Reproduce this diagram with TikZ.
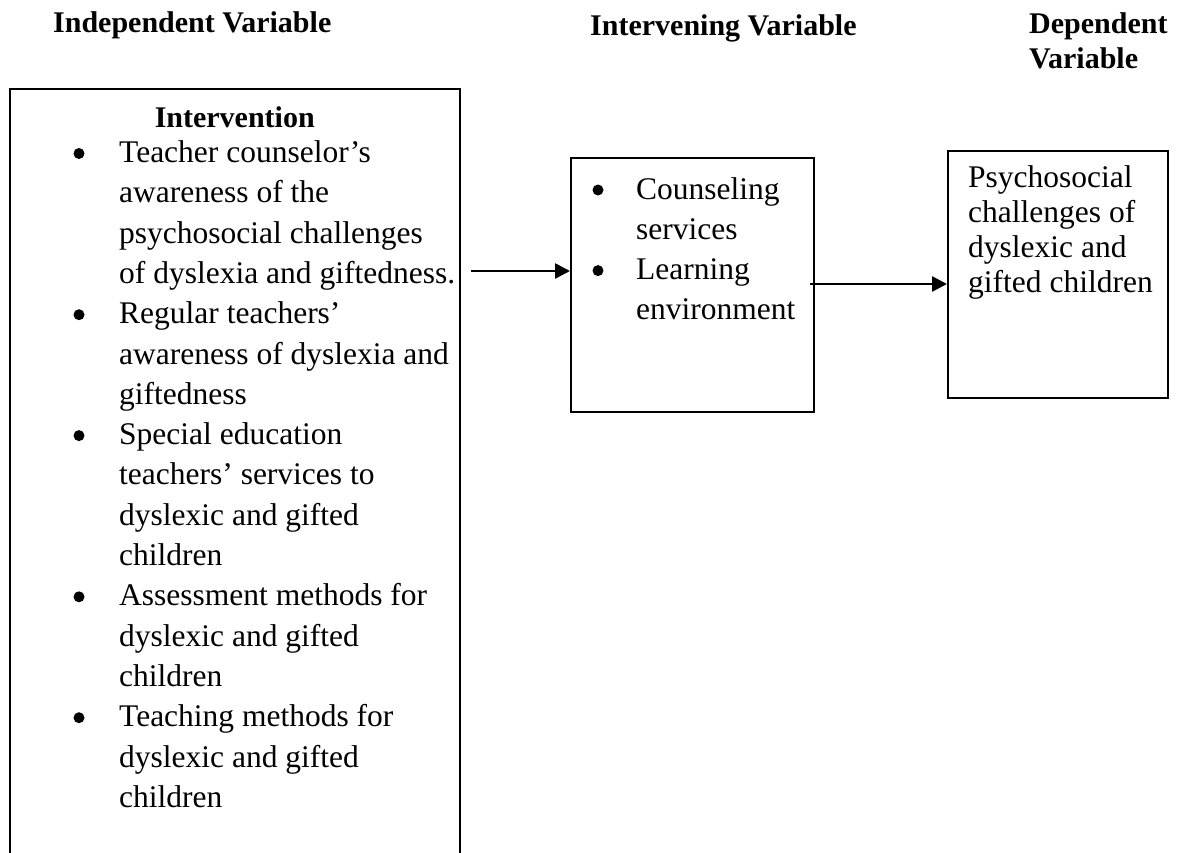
\documentclass[tikz,border=0pt]{standalone}
\usepackage{fontspec}
\setmainfont{Liberation Serif}
\usetikzlibrary{arrows.meta}
\begin{document}
\begin{tikzpicture}[x=1pt,y=-1pt,
  body/.style={font=\fontsize{31.5}{40}\selectfont, anchor=base west, inner sep=0pt},
  title/.style={font=\fontsize{30}{34}\selectfont\bfseries, anchor=base west, inner sep=0pt},
  box/.style={draw, line width=2pt, inner sep=0pt},
  arr/.style={line width=2.6pt, -{Triangle[length=15pt,width=15pt]}},
  dot/.style={circle, fill, inner sep=0pt, minimum size=11pt}]
\useasboundingbox (0,0) rectangle (1181,852);
% titles
\node[title] (tIndep) at (53,32) {Independent Variable};
\node[title] (tInterv) at (590,35) {Intervening Variable};
\node[title] (tDep1) at (1029,33) {Dependent};
\node[title] (tDep2) at (1029,68) {Variable};
% boxes
\node[box, minimum width=450.5pt, minimum height=811pt] (indep) at (234.75,494.5) {};
\node[box, minimum width=243pt, minimum height=254pt] (inter) at (692.5,285) {};
\node[box, minimum width=220pt, minimum height=247pt] (dep) at (1058,274.5) {};
% left box content
\node[title, anchor=base] (hInt) at (234.75,127) {Intervention};
\foreach \t [count=\i] in {Teacher counselor’s, awareness of the, psychosocial challenges,
  of dyslexia and giftedness., Regular teachers’, awareness of dyslexia and, giftedness,
  Special education, teachers’ services to, dyslexic and gifted, children,
  Assessment methods for, dyslexic and gifted, children,
  Teaching methods for, dyslexic and gifted, children}
  {\node[body] (L\i) at (119,{162.5+40.3*(\i-1)}) {\t};}
\foreach \k in {1,5,8,12,15}
  {\node[dot] (B\k) at (79,{162.5+40.3*(\k-1)-9}) {};}
% middle box content
\node[body] (M1) at (636,199) {Counseling};
\node[body] (M2) at (636,239.3) {services};
\node[body] (M3) at (636,279.6) {Learning};
\node[body] (M4) at (636,319.9) {environment};
\node[dot] (MB1) at (598,190) {};
\node[dot] (MB3) at (598,270.6) {};
% right box content
\node[body] (R1) at (968,187) {Psychosocial};
\node[body] (R2) at (968,222) {challenges of};
\node[body] (R3) at (968,257) {dyslexic and};
\node[body] (R4) at (968,292) {gifted children};
% arrows
\coordinate (a1s) at (471,271);
\coordinate (a2s) at (810,284);
\draw[arr] (a1s) -- (inter.west |- a1s);
\draw[arr] (a2s) -- (dep.west |- a2s);
\end{tikzpicture}
\end{document}
